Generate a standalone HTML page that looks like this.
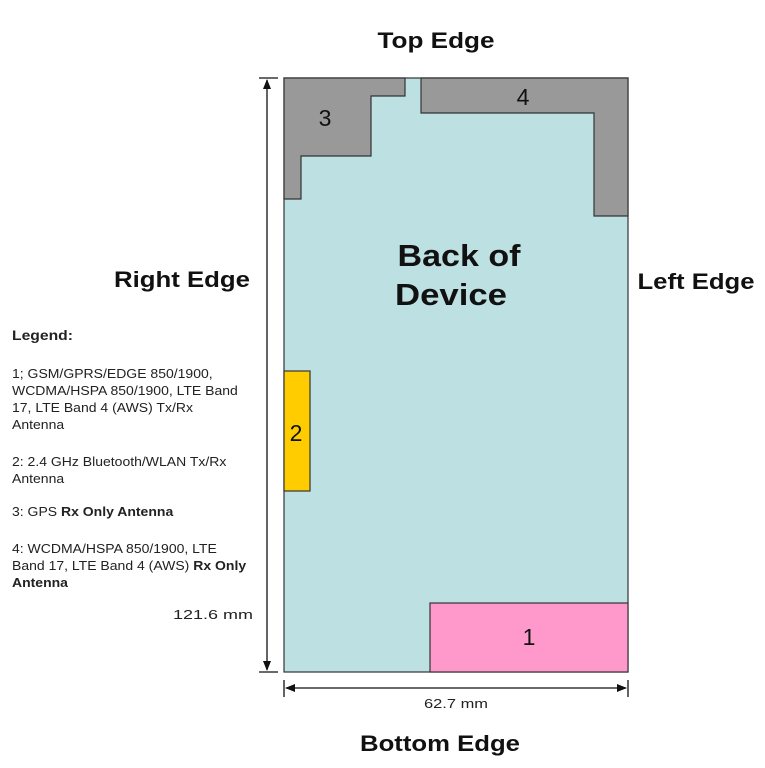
<!DOCTYPE html>
<html><head><meta charset="utf-8"><style>body{margin:0;background:#fff}svg{display:block}</style></head><body>
<svg width="765" height="768" viewBox="0 0 765 768" xmlns="http://www.w3.org/2000/svg" font-family="Liberation Sans, Arial, sans-serif">
<rect x="284" y="78" width="344" height="594" fill="#bde0e3" stroke="#333" stroke-width="1.2"/>
<polygon points="284,78 405,78 405,96 371,96 371,156 301,156 301,199 284,199" fill="#999" stroke="#333" stroke-width="1.2"/>
<polygon points="421,78 628,78 628,216 594,216 594,113 421,113" fill="#999" stroke="#333" stroke-width="1.2"/>
<rect x="430" y="603" width="198" height="69" fill="#ff99cc" stroke="#333" stroke-width="1.2"/>
<rect x="284" y="371" width="26" height="120" fill="#ffcc00" stroke="#333" stroke-width="1.2"/>
<g font-size="23" fill="#111" text-anchor="middle">
<text x="325" y="126">3</text><text x="523" y="105">4</text><text x="296" y="441">2</text><text x="529" y="645">1</text>
</g>
<g stroke="#111" stroke-width="1.3">
<line x1="259" y1="78" x2="278" y2="78"/><line x1="259" y1="672" x2="278" y2="672"/>
<line x1="267" y1="80" x2="267" y2="670"/>
<line x1="284" y1="680" x2="284" y2="697"/><line x1="628" y1="680" x2="628" y2="697"/>
<line x1="286" y1="688" x2="626" y2="688"/>
</g>
<polygon points="267,79 263,89 271,89" fill="#111"/>
<polygon points="267,671 263,661 271,661" fill="#111"/>
<polygon points="285,688 295,684 295,692" fill="#111"/>
<polygon points="627,688 617,684 617,692" fill="#111"/>
<g font-weight="bold" fill="#111" font-size="22" text-anchor="middle">
<text x="436" y="48" textLength="117" lengthAdjust="spacingAndGlyphs">Top Edge</text>
<text x="440" y="751" textLength="160" lengthAdjust="spacingAndGlyphs">Bottom Edge</text>
<text x="182" y="287" textLength="136" lengthAdjust="spacingAndGlyphs">Right Edge</text>
<text x="696" y="289" textLength="117" lengthAdjust="spacingAndGlyphs">Left Edge</text>
<text x="459" y="266" font-size="31" textLength="123" lengthAdjust="spacingAndGlyphs">Back of</text>
<text x="451" y="305" font-size="31" textLength="112" lengthAdjust="spacingAndGlyphs">Device</text>
</g>
<g font-size="12.5" fill="#222" transform="translate(12,0) scale(1.12,1) translate(-12,0)">
<text x="12" y="340" font-size="14" font-weight="bold">Legend:</text>
<text x="12" y="378">1; GSM/GPRS/EDGE 850/1900,</text>
<text x="12" y="395">WCDMA/HSPA 850/1900, LTE Band</text>
<text x="12" y="412">17, LTE Band 4 (AWS) Tx/Rx</text>
<text x="12" y="429">Antenna</text>
<text x="12" y="466">2: 2.4 GHz Bluetooth/WLAN Tx/Rx</text>
<text x="12" y="483">Antenna</text>
<text x="12" y="516">3: GPS <tspan font-weight="bold">Rx Only Antenna</tspan></text>
<text x="12" y="553">4: WCDMA/HSPA 850/1900, LTE</text>
<text x="12" y="570">Band 17, LTE Band 4 (AWS) <tspan font-weight="bold">Rx Only</tspan></text>
<text x="12" y="587" font-weight="bold">Antenna</text>
</g>
<g font-size="13" fill="#222">
<text x="253" y="619" text-anchor="end" textLength="80" lengthAdjust="spacingAndGlyphs">121.6 mm</text>
<text x="456" y="708" text-anchor="middle" textLength="64" lengthAdjust="spacingAndGlyphs">62.7 mm</text>
</g>
</svg>
</body></html>
